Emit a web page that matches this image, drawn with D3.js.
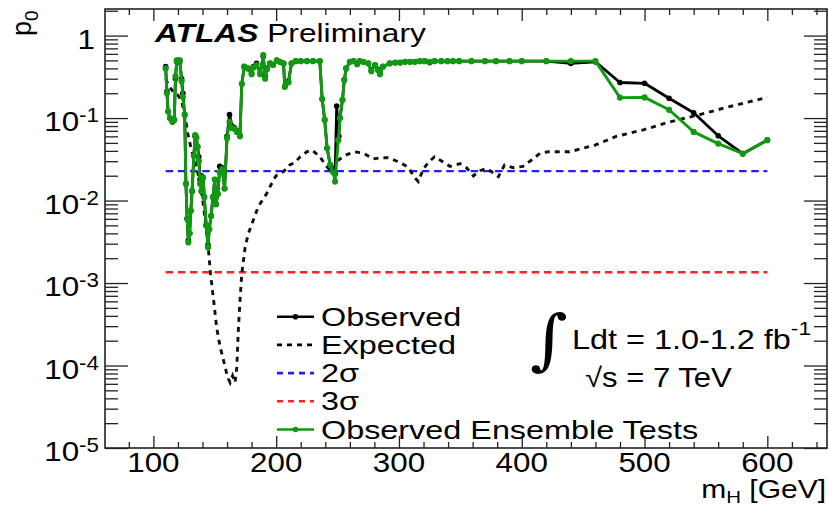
<!DOCTYPE html>
<html>
<head>
<meta charset="utf-8">
<script src="https://cdn.jsdelivr.net/npm/d3@7"></script>
<style>
  html, body { margin: 0; padding: 0; background: #fff; }
  svg { display: block; font-family: "Liberation Sans", Arial, Helvetica, sans-serif; }
</style>
</head>
<body>
<svg id="chart" width="829" height="506"></svg>
<script>
// observed p0 (black)
const obsMass = [110, 111, 112, 113.5, 115.5, 117, 118, 119, 120.5, 121.5, 123, 124, 125.5, 126.5, 127.5, 128.5, 129.5, 130.5, 131.5, 133,
  134, 135, 136, 137, 138, 139, 140.5, 141.5, 143, 144.5, 145.5, 147, 148.5, 150, 151, 152.5, 154, 156, 158, 160,
  162, 164, 166, 168, 170.5, 172, 174, 177, 180, 181.5, 184, 187, 189.5, 191, 192.5, 195, 197.5, 200.5, 203, 206,
  207, 210, 212.5, 216, 220, 225, 230, 235.5, 237.5, 239.5, 241.5, 244, 246.5, 248, 249.3, 251, 252, 254, 255.5, 257,
  260, 263, 266, 268, 271, 275, 277.5, 280.5, 283, 284.5, 287, 292.5, 297, 301, 305, 309, 313, 317, 321, 325,
  329, 334.5, 339.5, 344, 349, 359, 370, 379, 390, 400, 420, 440, 460, 480, 500, 520, 540, 560, 580, 600];
const obsP = [0.42, 0.21, 0.12, 0.10, 0.09, 0.095, 0.30, 0.48, 0.50, 0.48, 0.30, 0.20, 0.11, 0.016, 0.006, 0.0033, 0.004, 0.0075, 0.013, 0.035,
  0.060, 0.058, 0.045, 0.034, 0.018, 0.020, 0.019, 0.011, 0.005, 0.0029, 0.0045, 0.0065, 0.011, 0.018, 0.009, 0.012, 0.026, 0.025, 0.014, 0.060,
  0.11, 0.080, 0.076, 0.070, 0.062, 0.26, 0.42, 0.40, 0.35, 0.42, 0.46, 0.35, 0.56, 0.32, 0.40, 0.46, 0.44, 0.50, 0.48, 0.46,
  0.24, 0.28, 0.46, 0.49, 0.49, 0.49, 0.49, 0.49, 0.17, 0.095, 0.043, 0.027, 0.022, 0.021, 0.14, 0.06, 0.10, 0.166, 0.29, 0.40,
  0.48, 0.49, 0.46, 0.49, 0.48, 0.46, 0.38, 0.44, 0.39, 0.35, 0.42, 0.46, 0.47, 0.47, 0.48, 0.48, 0.48, 0.49, 0.49, 0.47,
  0.49, 0.49, 0.49, 0.49, 0.49, 0.49, 0.49, 0.49, 0.49, 0.49, 0.49, 0.46, 0.48, 0.27, 0.264, 0.174, 0.116, 0.061, 0.037, 0.054];

// observed ensemble tests (green)
const ensMass = [110, 111, 112, 113.5, 115.5, 117, 118, 119, 120.5, 121.5, 123, 124, 125.5, 126.5, 127.5, 128.5, 129.5, 130.5, 131.5, 133,
  134, 135, 136, 137, 138, 139, 140.5, 141.5, 143, 144.5, 145.5, 147, 148.5, 150, 151, 152.5, 154, 156, 158, 160,
  162, 164, 166, 168, 170.5, 172, 174, 177, 180, 181.5, 184, 187, 189.5, 191, 192.5, 195, 197.5, 200.5, 203, 206,
  207, 210, 212.5, 216, 220, 225, 230, 235.5, 237.5, 239.5, 241.5, 244, 246.5, 248, 250.6, 252, 254, 255.5, 257,
  260, 263, 266, 268, 271, 275, 277.5, 280.5, 283, 284.5, 287, 292.5, 297, 301, 305, 309, 313, 317, 321, 325,
  329, 334.5, 339.5, 344, 349, 359, 370, 379, 390, 400, 420, 440, 460, 480, 500, 520, 540, 560, 580, 600];
const ensP = [0.40, 0.20, 0.12, 0.10, 0.09, 0.095, 0.32, 0.50, 0.50, 0.50, 0.28, 0.18, 0.11, 0.016, 0.006, 0.0031, 0.004, 0.0075, 0.013, 0.035,
  0.062, 0.058, 0.045, 0.030, 0.016, 0.013, 0.019, 0.011, 0.005, 0.0027, 0.0045, 0.0065, 0.011, 0.018, 0.009, 0.012, 0.022, 0.024, 0.014, 0.057,
  0.09, 0.076, 0.074, 0.068, 0.060, 0.26, 0.42, 0.40, 0.34, 0.41, 0.44, 0.34, 0.58, 0.30, 0.39, 0.46, 0.44, 0.50, 0.48, 0.46,
  0.24, 0.27, 0.46, 0.49, 0.49, 0.49, 0.49, 0.49, 0.17, 0.095, 0.043, 0.027, 0.022, 0.017, 0.054, 0.10, 0.166, 0.29, 0.40,
  0.48, 0.49, 0.45, 0.49, 0.48, 0.46, 0.37, 0.44, 0.38, 0.34, 0.42, 0.46, 0.47, 0.47, 0.48, 0.48, 0.48, 0.49, 0.49, 0.48,
  0.49, 0.49, 0.49, 0.49, 0.49, 0.49, 0.49, 0.49, 0.49, 0.49, 0.49, 0.49, 0.49, 0.177, 0.178, 0.126, 0.068, 0.049, 0.037, 0.054];

// expected p0 (dashed)
const expMass = [110, 113, 117, 120, 123, 126, 128, 131, 135, 138, 140.5, 143.5, 145, 146.5, 149, 151.5, 154.3, 158.4, 160.3, 162.5,
  164.5, 166.5, 168, 169, 170.6, 172, 174.7, 177.4, 181.4, 185.5, 192.3, 197.7, 200, 206, 211, 215.4, 219.5, 225, 229, 235.7,
  240, 245, 250.6, 257.5, 264, 271, 279, 285, 291, 301, 308, 312, 315.8, 320, 325, 329, 335, 341.5, 349.7, 355,
  360.6, 366, 371.5, 376, 381, 386, 393, 401, 408, 415, 421.7, 439, 459.7, 477, 499, 520.8, 545, 567, 600];
const expP = [0.30, 0.24, 0.20, 0.19, 0.16, 0.10, 0.065, 0.041, 0.026, 0.0163, 0.0093, 0.004, 0.0024, 0.0013, 0.00063, 0.00029, 0.00017, 0.000097, 0.000073, 0.000062,
  0.000075, 0.000062, 0.000097, 0.00024, 0.00063, 0.0013, 0.0027, 0.004, 0.0058, 0.0085, 0.0122, 0.0177, 0.020, 0.0224, 0.027, 0.029, 0.034, 0.039, 0.041, 0.034,
  0.027, 0.0224, 0.031, 0.036, 0.039, 0.0375, 0.032, 0.033, 0.033, 0.029, 0.025, 0.0195, 0.017, 0.0245, 0.030, 0.034, 0.030, 0.026, 0.028, 0.025,
  0.0199, 0.023, 0.0245, 0.022, 0.0195, 0.027, 0.025, 0.026, 0.031, 0.0375, 0.039, 0.039, 0.047, 0.060, 0.072, 0.090, 0.110, 0.135, 0.178];

const sigmaLevels = [{ p: 0.02275, color: "#1f1fff" }, { p: 0.00135, color: "#ff2222" }];
const sigmaRange = [110, 600];
const xMajor = [100, 200, 300, 400, 500, 600];
const xMinor = [80, 120, 140, 160, 180, 220, 240, 260, 280, 320, 340, 360, 380, 420, 440, 460, 480, 520, 540, 560, 580, 620, 640];
const yMajorExp = [0, -1, -2, -3, -4, -5];
const legendItems = [
  { label: "Observed", color: "#000", dash: null, marker: true },
  { label: "Expected", color: "#000", dash: "5,5", marker: false },
  { label: "2\u03c3", color: "#1f1fff", dash: "6,5", marker: false },
  { label: "3\u03c3", color: "#ff2222", dash: "6,5", marker: false },
  { label: "Observed Ensemble Tests", color: "#119911", dash: null, marker: true },
];

const svg = d3.select("#chart");
const L = 105, R = 827, T = 9, B = 448;
const x = d3.scaleLinear().domain([60.6, 648.6]).range([L, R]);
const y = d3.scaleLog().domain([1e-5, 2.1]).range([B, T]);
const green = "#119911";
const sx = 1.2;

svg.append("defs").append("clipPath").attr("id", "plotClip")
  .append("rect").attr("x", L).attr("y", T).attr("width", R - L).attr("height", B - T);

// ticks
const yMinor = [];
yMajorExp.forEach((e) => [2, 3, 4, 5, 6, 7, 8, 9].forEach((k) => { if (k * Math.pow(10, e) < 2.1) yMinor.push(k * Math.pow(10, e)); }));
const tickStyle = (axis) => axis.call((a) => a.select(".domain").remove()).call((a) => a.selectAll("line").attr("stroke", "#222").attr("stroke-width", 1.3));

svg.append("g").attr("transform", `translate(0,${B})`).call(d3.axisBottom(x).tickValues(xMajor).tickSize(-12).tickFormat("")).call(tickStyle);
svg.append("g").attr("transform", `translate(0,${B})`).call(d3.axisBottom(x).tickValues(xMinor).tickSize(-6).tickFormat("")).call(tickStyle);
svg.append("g").attr("transform", `translate(0,${T})`).call(d3.axisTop(x).tickValues(xMajor).tickSize(-12).tickFormat("")).call(tickStyle);
svg.append("g").attr("transform", `translate(0,${T})`).call(d3.axisTop(x).tickValues(xMinor).tickSize(-6).tickFormat("")).call(tickStyle);
const yMajor = yMajorExp.map((e) => Math.pow(10, e));
svg.append("g").attr("transform", `translate(${L},0)`).call(d3.axisLeft(y).tickValues(yMajor).tickSize(-23).tickFormat("")).call(tickStyle);
svg.append("g").attr("transform", `translate(${L},0)`).call(d3.axisLeft(y).tickValues(yMinor).tickSize(-13).tickFormat("")).call(tickStyle);
svg.append("g").attr("transform", `translate(${R},0)`).call(d3.axisRight(y).tickValues(yMajor).tickSize(-23).tickFormat("")).call(tickStyle);
svg.append("g").attr("transform", `translate(${R},0)`).call(d3.axisRight(y).tickValues(yMinor).tickSize(-13).tickFormat("")).call(tickStyle);

// x tick labels
xMajor.forEach((v) => {
  svg.append("text").attr("transform", `translate(${x(v)},${B + 24}) scale(1.12,1)`)
    .attr("text-anchor", "middle").attr("font-size", 28).text(v);
});
// y tick labels
yMajorExp.forEach((e) => {
  const t = svg.append("text").attr("transform", `translate(99,${y(Math.pow(10, e)) + 13}) scale(1.12,1)`)
    .attr("text-anchor", "end").attr("font-size", 28);
  if (e === 0) {
    t.attr("transform", `translate(95,${y(1) + 13}) scale(1.12,1)`).text("1");
  } else {
    t.append("tspan").text("10");
    t.append("tspan").attr("font-size", 20).attr("dy", -9).text(String(e));
  }
});

// axis titles
const xt = svg.append("text").attr("transform", `translate(826,498) scale(${sx},1)`).attr("text-anchor", "end").attr("font-size", 25);
xt.append("tspan").text("m");
xt.append("tspan").attr("font-size", 17).attr("dy", 5).text("H");
xt.append("tspan").attr("dy", -5).text(" [GeV]");
const yt = svg.append("text").attr("transform", "translate(31,36) rotate(-90)").attr("font-size", 27);
yt.append("tspan").text("p");
yt.append("tspan").attr("font-size", 19).attr("dy", 7).text("0");

// sigma lines
const plot = svg.append("g").attr("clip-path", "url(#plotClip)");
sigmaLevels.forEach((s) => {
  plot.append("line").attr("x1", x(sigmaRange[0])).attr("x2", x(sigmaRange[1]))
    .attr("y1", y(s.p)).attr("y2", y(s.p))
    .attr("stroke", s.color).attr("stroke-width", 2.4).attr("stroke-dasharray", "7.5,4.7");
});

const line = d3.line().x((d) => x(d[0])).y((d) => y(d[1]));
const expPts = d3.zip(expMass, expP);
const obsPts = d3.zip(obsMass, obsP);
const ensPts = d3.zip(ensMass, ensP);

plot.append("path").attr("d", line(expPts)).attr("fill", "none").attr("stroke", "#111")
  .attr("stroke-width", 2.9).attr("stroke-dasharray", "5,5");

plot.append("path").attr("d", line(obsPts)).attr("fill", "none").attr("stroke", "#000").attr("stroke-width", 2.8).attr("stroke-linejoin", "round");
plot.selectAll("circle.obs").data(obsPts).join("circle").attr("class", "obs")
  .attr("cx", (d) => x(d[0])).attr("cy", (d) => y(d[1])).attr("r", 2.8).attr("fill", "#000");

plot.append("path").attr("d", line(ensPts)).attr("fill", "none").attr("stroke", green).attr("stroke-width", 2.9).attr("stroke-linejoin", "round");
plot.selectAll("circle.ens").data(ensPts).join("circle").attr("class", "ens")
  .attr("cx", (d) => x(d[0])).attr("cy", (d) => y(d[1])).attr("r", 3.1).attr("fill", green);

// frame
svg.append("rect").attr("x", L).attr("y", T).attr("width", R - L).attr("height", B - T)
  .attr("fill", "none").attr("stroke", "#222").attr("stroke-width", 1.6);

// ATLAS label
const atl = svg.append("text").attr("transform", `translate(155,42) scale(1.22,1)`).attr("font-size", 26);
atl.append("tspan").attr("font-weight", "bold").attr("font-style", "italic").text("ATLAS");
atl.append("tspan").text(" Preliminary");

// legend
legendItems.forEach((item, i) => {
  const cy = 316.7 + i * 28.2;
  svg.append("line").attr("x1", 277).attr("x2", 314).attr("y1", cy).attr("y2", cy)
    .attr("stroke", item.color).attr("stroke-width", 2.6)
    .attr("stroke-dasharray", item.dash);
  if (item.marker) svg.append("circle").attr("cx", 295.5).attr("cy", cy).attr("r", 2.8).attr("fill", item.color);
  svg.append("text").attr("transform", `translate(321,${cy + 9}) scale(1.27,1)`).attr("font-size", 25.5).text(item.label);
});

// luminosity text
svg.append("text").attr("transform", "translate(530,362) scale(1.1,1)").attr("font-size", 66)
  .attr("font-family", "DejaVu Serif").text("\u222b");
const lum = svg.append("text").attr("transform", `translate(572,349) scale(1.2,1)`).attr("font-size", 27);
lum.append("tspan").text("Ldt = 1.0-1.2 fb");
lum.append("tspan").attr("font-size", 19).attr("dy", -14).text("-1");
svg.append("text").attr("transform", `translate(585,387) scale(1.15,1)`).attr("font-size", 27).text("\u221as = 7 TeV");
</script>
</body>
</html>
